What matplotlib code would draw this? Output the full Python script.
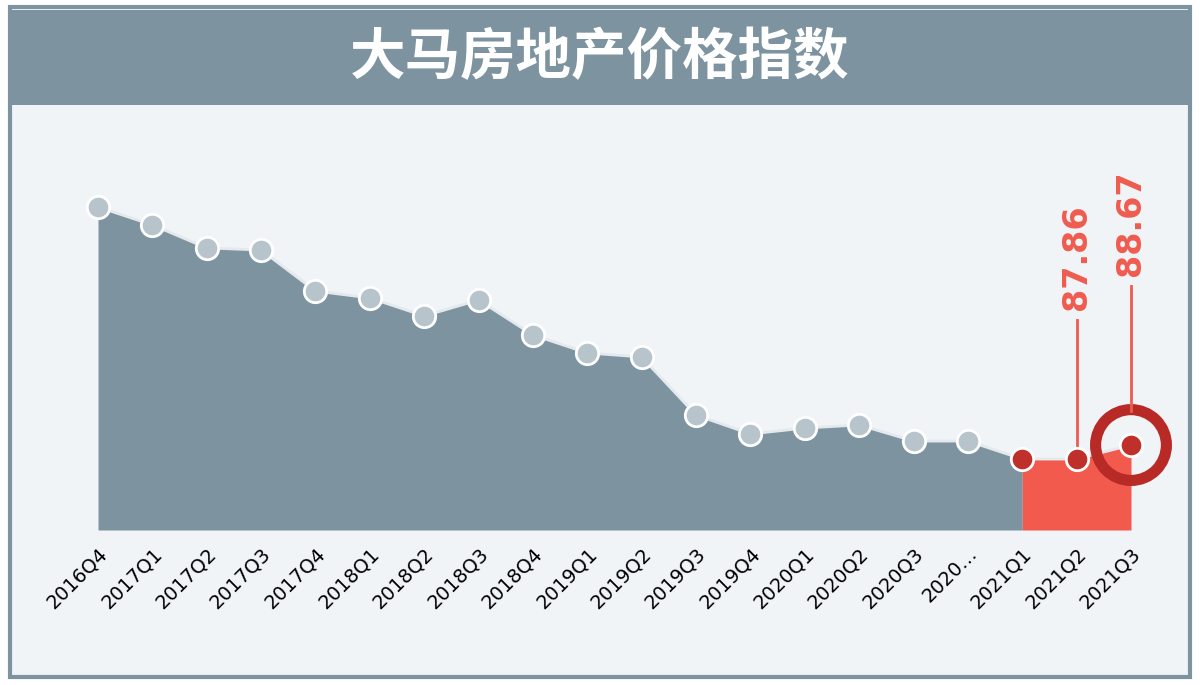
import matplotlib
matplotlib.use("Agg")
import matplotlib.pyplot as plt
from matplotlib.patches import Rectangle

plt.rcParams['font.family'] = ['Noto Sans CJK SC', 'DejaVu Sans']

labels = ["2016Q4","2017Q1","2017Q2","2017Q3","2017Q4","2018Q1","2018Q2","2018Q3",
          "2018Q4","2019Q1","2019Q2","2019Q3","2019Q4","2020Q1","2020Q2","2020Q3",
          "2020…","2021Q1","2021Q2","2021Q3"]
values = [102.43,101.39,100.06,99.94,97.57,97.17,96.13,97.05,95.03,93.99,93.76,
          90.40,89.31,89.65,89.83,88.90,88.90,87.86,87.86,88.67]
title = "大马房地产价格指数"

W, H = 1200, 685
fig = plt.figure(figsize=(W/100, H/100), dpi=100)
fig.patch.set_facecolor("white")
fig.patches.append(Rectangle((10/W, 8/H), 1180/W, 670/H, transform=fig.transFigure,
                             facecolor="#f0f4f7", edgecolor="#7d939f", lw=3, zorder=-3))
fig.patches.append(Rectangle((10/W, (H-105)/H), 1180/W, 95/H, transform=fig.transFigure,
                             facecolor="#7d939f", edgecolor="none", zorder=-2))
fig.text(600/W, (H-58)/H, title, color="white", fontsize=40, fontweight="bold",
         ha="center", va="center")

ax = fig.add_axes([98/W, (H-530)/H, (1131-98)/W, 380/H])
ax.set_facecolor("none")
ax.set_zorder(2)
n = len(values)
x = list(range(n))
ymin = 83.76
ymax = 87.86 + (459-150)/17.3
ax.set_xlim(0, n-1)
ax.set_ylim(ymin, ymax)
ax.fill_between(x[:18], values[:18], ymin, color="#7d939f", lw=0)
ax.fill_between(x[17:], values[17:], ymin, color="#f25a4d", lw=0)
ax.plot(x, values, color="#e3e9ed", lw=2, zorder=3, clip_on=False)
ax.scatter(x[:17], values[:17], s=260, color="#b7c4cc", edgecolor="white", lw=2,
           zorder=4, clip_on=False)
ax.scatter(x[17:], values[17:], s=260, color="#c0302b", edgecolor="white", lw=2,
           zorder=4, clip_on=False)
ax.scatter([x[-1]], [values[-1]], s=2600, facecolor="none", edgecolor="#b82a26", lw=8,
           zorder=5, clip_on=False)

red = "#ef5b4f"
for i, dy_line in [(18, 14), (19, 34)]:
    v = values[i]
    ax.plot([i, i], [v + dy_line/17.3, v + (dy_line + 125)/17.3], color=red, lw=2,
            clip_on=False, zorder=6)
    ax.text(i, v + (dy_line + 135)/17.3, f"{v:.2f}", rotation=90, color=red,
            fontsize=24, fontweight="bold", ha="center", va="bottom",
            family="DejaVu Sans", clip_on=False)

ax.set_xticks(x)
ax.set_xticklabels(labels, rotation=45, ha="right", rotation_mode="anchor",
                   fontsize=14, family="DejaVu Sans")
ax.tick_params(axis="x", length=0, pad=10)
ax.set_yticks([])
for s in ax.spines.values():
    s.set_visible(False)

fig.savefig("out.png", dpi=100)
